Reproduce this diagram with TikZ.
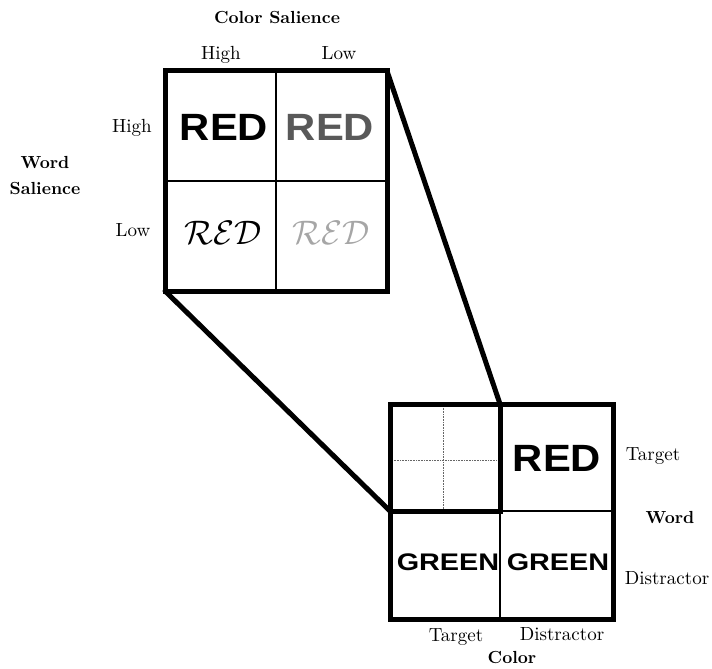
\documentclass[tikz,border=0pt]{standalone}
\usepackage{fontspec}
\usepackage{graphicx}
\setmainfont{lmroman10}[Extension=.otf, UprightFont=*-regular, BoldFont=*-bold, ItalicFont=*-italic, BoldItalicFont=*-bolditalic]
\newfontfamily\hv{Liberation Sans}
\begin{document}
\begin{tikzpicture}[x=1pt,y=-1pt,
  thickline/.style={line width=5pt, line join=miter},
  thinline/.style={line width=1.3pt},
  dotline/.style={line width=0.6pt, densely dotted, black!60},
  lab/.style={font=\fontsize{19}{21}\selectfont, inner sep=0pt},
  blab/.style={font=\fontsize{17.5}{26}\selectfont\bfseries, inner sep=0pt, align=center},
  bigword/.style={font=\hv\bfseries\fontsize{38}{40}\selectfont, inner sep=0pt, xscale=1.1},
  midword/.style={font=\hv\bfseries\fontsize{24}{26}\selectfont, inner sep=0pt, xscale=1.2},
  scriptword/.style={inner sep=0pt}
]
\useasboundingbox (0,0) rectangle (712,669);

% ---------- top grid ----------
\coordinate (tTL) at (165,71);
\coordinate (tTR) at (387,71);
\coordinate (tBL) at (165,291);
\coordinate (tBR) at (387,291);
\draw[thinline] (276,71) -- (276,291);
\draw[thinline] (165,181) -- (387,181);
\draw[thickline] (tTL) rectangle (tBR);

\node[bigword] (w1) at (224,127) {RED};
\node[bigword, text=black!65] (w2) at (330,127) {RED};
\node[scriptword] (w3) at (223,233) {\scalebox{3.4}{$\mathcal{RED}$}};
\node[scriptword, text=black!35] (w4) at (331,233) {\scalebox{3.4}{$\mathcal{RED}$}};

\node[blab] (cs) at (277,17) {Color Salience};
\node[lab] (ch) at (221,55) {High};
\node[lab] (cl) at (339,53) {Low};
\node[lab] (wh) at (132,128) {High};
\node[lab] (wl) at (133,230) {Low};
\node[blab] (ws) at (45,176) {Word\\Salience};

% ---------- bottom grid ----------
\coordinate (bTL) at (390,404);
\coordinate (bBR) at (613,619);
\coordinate (sTR) at (500,404);
\coordinate (sBL) at (390,511);
\coordinate (sBR) at (500,511);
\draw[dotline] (443,406) -- (443,509);
\draw[dotline] (392,460) -- (498,460);
\draw[thinline] (500,511) -- (500,619);
\draw[thinline] (500,511) -- (613,511);
\draw[thickline] (bTL) rectangle (bBR);
\draw[thickline] (bTL) rectangle (sBR);

\node[bigword] (w5) at (557,458) {RED};
\node[midword] (w6) at (448,562) {GREEN};
\node[midword] (w7) at (558,562) {GREEN};

\node[lab] (rt) at (653,456) {Target};
\node[blab] (rw) at (670,517) {Word};
\node[lab] (rd) at (667,578) {Distractor};
\node[lab] (bt) at (456,637) {Target};
\node[lab] (bd) at (562,634) {Distractor};
\node[blab] (bc) at (512,657) {Color};

% ---------- connectors ----------
\draw[thickline, line cap=round] (tTR) -- (sTR);
\draw[thickline, line cap=round] (tBL) -- (sBL);
\end{tikzpicture}
\end{document}
